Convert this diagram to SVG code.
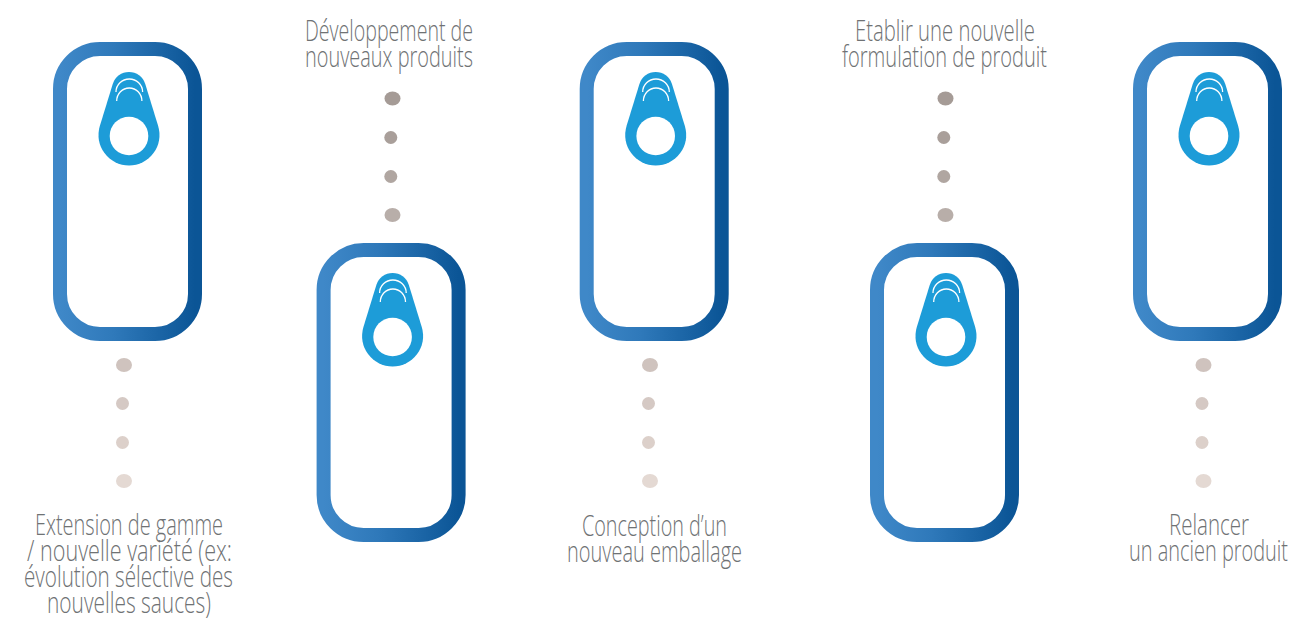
<svg xmlns="http://www.w3.org/2000/svg" xmlns:xlink="http://www.w3.org/1999/xlink" width="1290" height="619" viewBox="0 0 1290 619">
<style>
.frame{fill:#fff;stroke:url(#g);stroke-width:14}
.drop{fill:#1d9cd8}
.hole{fill:#fff}
.arc{fill:none;stroke:#fff;stroke-width:1.300}
text{font-family:"Open Sans","Noto Sans",sans-serif;font-weight:300;font-size:29px;fill:#6f7274}
</style>
<defs>
<linearGradient id="g" x1="0" y1="0" x2="1" y2="0">
<stop offset="0" stop-color="#3f88c8"/><stop offset="0.4" stop-color="#2f79ba"/><stop offset="1" stop-color="#0b5596"/>
</linearGradient>
<g id="card">
<rect class="frame" x="60" y="49" width="135" height="285" rx="40" ry="40"/>
<path class="drop" d="M112.750 84A17 17 0 0 1 145.250 84L158.160 126.050A30.500 30.500 0 1 1 99.840 126.050Z"/>
<circle class="hole" cx="129" cy="136" r="19.300"/>
<path class="arc" d="M116 92A13.300 13 0 0 1 142.600 92"/>
<path class="arc" d="M116.700 101A12.600 13 0 0 1 141.900 101"/>
</g>
</defs>
<g id="connectors">
<g id="dots-1"><ellipse cx="124" cy="365" rx="8" ry="7" fill="#cfc3be"/><circle cx="122.500" cy="403.500" r="6.500" fill="#d5c9c4"/><circle cx="122.500" cy="442.500" r="6.500" fill="#dcd0ca"/><ellipse cx="124" cy="481" rx="8" ry="7" fill="#e4d9d3"/></g>
<g id="dots-2"><ellipse cx="392.500" cy="98.500" rx="8" ry="7" fill="#a59b96"/><circle cx="390.800" cy="137.500" r="6.500" fill="#a99f9a"/><circle cx="390.800" cy="176.500" r="6.500" fill="#b0a6a1"/><ellipse cx="392.500" cy="215" rx="8" ry="7" fill="#b8aea9"/></g>
<g id="dots-3"><ellipse cx="650" cy="365" rx="8" ry="7" fill="#cfc3be"/><circle cx="648.500" cy="403.500" r="6.500" fill="#d5c9c4"/><circle cx="648.500" cy="442.500" r="6.500" fill="#dcd0ca"/><ellipse cx="650" cy="481" rx="8" ry="7" fill="#e4d9d3"/></g>
<g id="dots-4"><ellipse cx="945.500" cy="98.500" rx="8" ry="7" fill="#a59b96"/><circle cx="943.800" cy="137.500" r="6.500" fill="#a99f9a"/><circle cx="943.800" cy="176.500" r="6.500" fill="#b0a6a1"/><ellipse cx="945.500" cy="215" rx="8" ry="7" fill="#b8aea9"/></g>
<g id="dots-5"><ellipse cx="1203.500" cy="365" rx="8" ry="7" fill="#cfc3be"/><circle cx="1202" cy="403.500" r="6.500" fill="#d5c9c4"/><circle cx="1202" cy="442.500" r="6.500" fill="#dcd0ca"/><ellipse cx="1203.500" cy="481" rx="8" ry="7" fill="#e4d9d3"/></g>
</g>
<g id="node-1"><use xlink:href="#card"/>
<text x="35" y="535" textLength="188" lengthAdjust="spacingAndGlyphs">Extension de gamme</text>
<text x="27" y="561" textLength="205" lengthAdjust="spacingAndGlyphs">/ nouvelle variété (ex:</text>
<text x="24" y="587" textLength="209" lengthAdjust="spacingAndGlyphs">évolution sélective des</text>
<text x="47" y="613" textLength="164" lengthAdjust="spacingAndGlyphs">nouvelles sauces)</text></g>
<g id="node-2"><use xlink:href="#card" transform="translate(263.600 201)"/>
<text x="305" y="41" textLength="168" lengthAdjust="spacingAndGlyphs">Développement de</text>
<text x="305" y="66.500" textLength="168" lengthAdjust="spacingAndGlyphs">nouveaux produits</text></g>
<g id="node-3"><use xlink:href="#card" transform="translate(526.700 0)"/>
<text x="582" y="535.500" textLength="145" lengthAdjust="spacingAndGlyphs">Conception d’un</text>
<text x="567" y="561.500" textLength="175" lengthAdjust="spacingAndGlyphs">nouveau emballage</text></g>
<g id="node-4"><use xlink:href="#card" transform="translate(817 201)"/>
<text x="855" y="41" textLength="180" lengthAdjust="spacingAndGlyphs">Etablir une nouvelle</text>
<text x="842" y="66.500" textLength="205" lengthAdjust="spacingAndGlyphs">formulation de produit</text></g>
<g id="node-5"><use xlink:href="#card" transform="translate(1080 0)"/>
<text x="1169" y="534.500" textLength="80" lengthAdjust="spacingAndGlyphs">Relancer</text>
<text x="1129" y="560.500" textLength="159" lengthAdjust="spacingAndGlyphs">un ancien produit</text></g>
</svg>
